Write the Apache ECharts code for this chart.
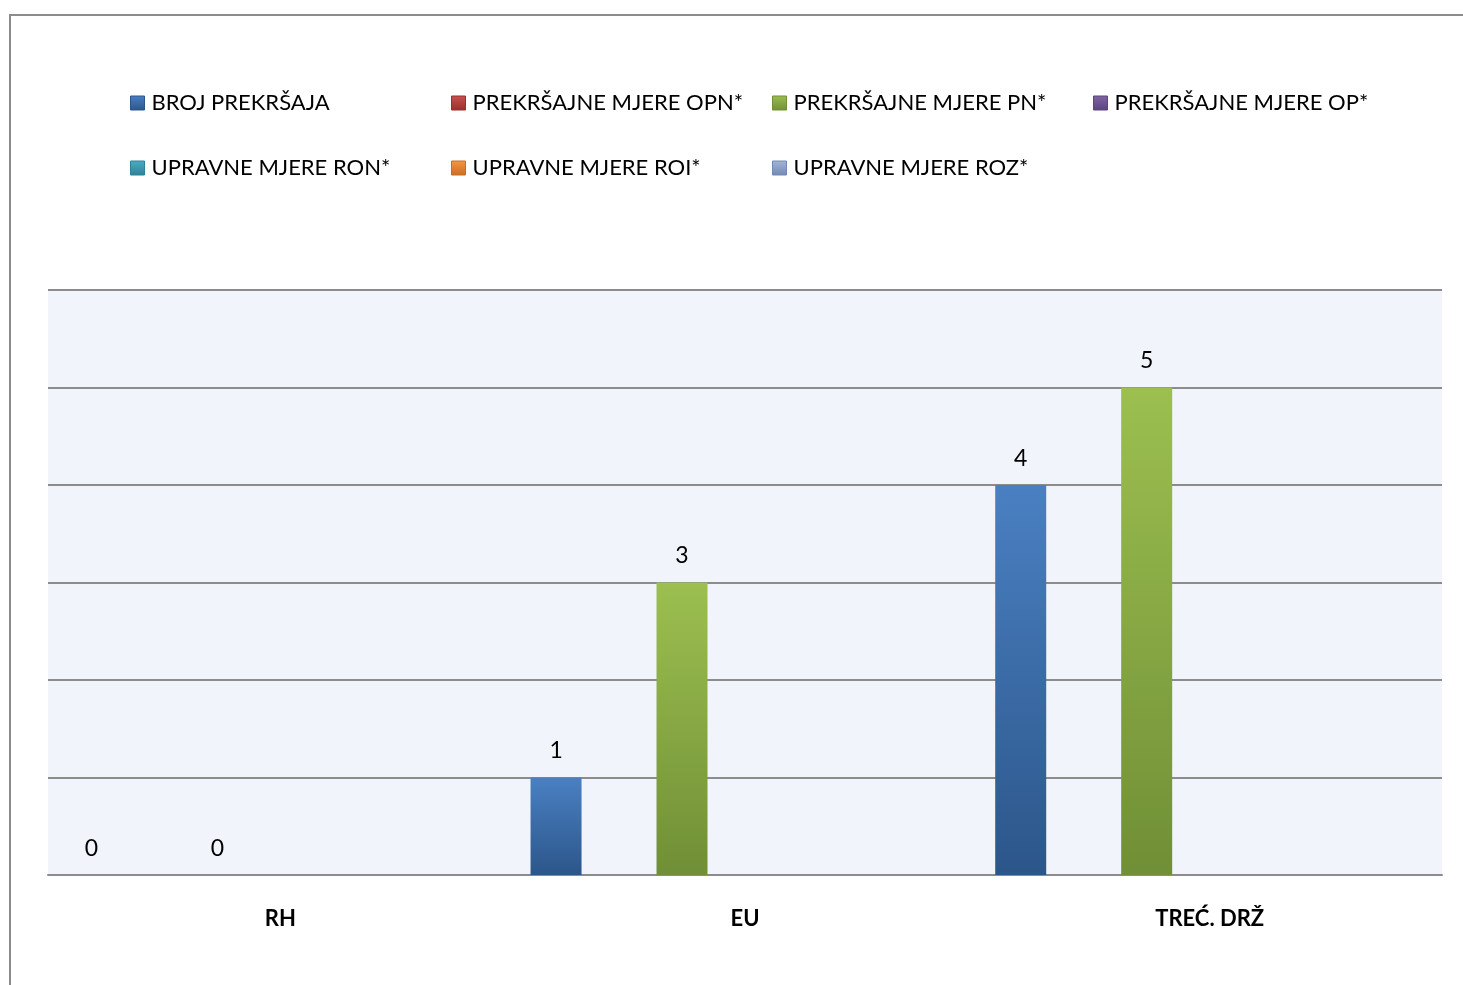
<!DOCTYPE html>
<html>
<head>
<meta charset="UTF-8">
<title>Prekršaji</title>
<script src="https://cdn.jsdelivr.net/npm/echarts@6/dist/echarts.min.js"></script>
<style>
  html, body { margin: 0; padding: 0; background: #fff; }
  #chart { width: 1463px; height: 985px; }
</style>
</head>
<body>
<div id="chart"></div>
<script>
// kategorije (x os)
var categories = ['RH', 'EU', 'TREĆ. DRŽ'];

// nazivi serija
var seriesNames = [
  'BROJ PREKRŠAJA',
  'PREKRŠAJNE MJERE OPN*',
  'PREKRŠAJNE MJERE PN*',
  'PREKRŠAJNE MJERE OP*',
  'UPRAVNE MJERE RON*',
  'UPRAVNE MJERE ROI*',
  'UPRAVNE MJERE ROZ*'
];

// vrijednosti po serijama (null = nema podatka)
var brojPrekrsaja = [0, 1, 4];
var mjereOPN = [null, null, null];
var mjerePN = [0, 3, 5];
var mjereOP = [null, null, null];
var mjereRON = [null, null, null];
var mjereROI = [null, null, null];
var mjereROZ = [null, null, null];

var seriesValues = [brojPrekrsaja, mjereOPN, mjerePN, mjereOP, mjereRON, mjereROI, mjereROZ];

// boje (svijetla -> tamna)
var colors = [
  ['#4a80c2', '#2c568a'],
  ['#c9514e', '#98302e'],
  ['#9cbf50', '#708f36'],
  ['#8064a2', '#5c4580'],
  ['#4bacc6', '#2f8196'],
  ['#f79646', '#c86d22'],
  ['#a3b6d8', '#7289b3']
];

var myChart = echarts.init(document.getElementById('chart'));

var fontFam = 'Lato, "Open Sans", sans-serif';

// legenda: 4 stupca, 2 reda
var legends = seriesNames.map(function (name, i) {
  return {
    data: [name],
    left: 125 + (i % 4) * 321,
    top: i < 4 ? 87 : 152,
    itemWidth: 14,
    itemHeight: 14,
    itemGap: 0,
    icon: 'rect',
    selectedMode: false,
    itemStyle: { borderColor: colors[i][1], borderWidth: 1 },
    textStyle: { fontFamily: fontFam, fontSize: 22, color: '#000', padding: [0, 0, 0, 2] }
  };
});

var series = seriesNames.map(function (name, i) {
  return {
    name: name,
    type: 'bar',
    data: seriesValues[i],
    barWidth: 51,
    barGap: '23.5%',
    itemStyle: {
      color: new echarts.graphic.LinearGradient(0, 0, 0, 1, [
        { offset: 0, color: colors[i][0] },
        { offset: 1, color: colors[i][1] }
      ]),
      borderWidth: 0
    },
    label: {
      show: true,
      position: 'top',
      distance: 15,
      fontFamily: fontFam,
      fontSize: 23,
      color: '#000',
      formatter: function (p) { return p.value == null ? '' : p.value; }
    }
  };
});

myChart.setOption({
  backgroundColor: '#fff',
  animation: false,
  graphic: [{
    type: 'rect',
    shape: { x: 10, y: 15, width: 1500, height: 1000 },
    style: { fill: 'none', stroke: '#8c8c8c', lineWidth: 2 },
    z: 100
  }],
  legend: legends,
  grid: {
    left: 48,
    right: 21,
    top: 290,
    bottom: 110,
    show: true,
    backgroundColor: '#f1f4fa',
    borderWidth: 0
  },
  xAxis: {
    type: 'category',
    data: categories,
    axisLine: { lineStyle: { color: '#8c8c8c', width: 2 } },
    axisTick: { show: false },
    axisLabel: {
      margin: 33,
      fontFamily: fontFam,
      fontSize: 22,
      fontWeight: 'bold',
      color: '#000'
    }
  },
  yAxis: {
    type: 'value',
    min: 0,
    max: 6,
    interval: 1,
    axisLine: { show: false },
    axisTick: { show: false },
    axisLabel: { show: false },
    splitLine: { lineStyle: { color: '#8c8c8c', width: 2 } }
  },
  series: series
});
</script>
</body>
</html>
